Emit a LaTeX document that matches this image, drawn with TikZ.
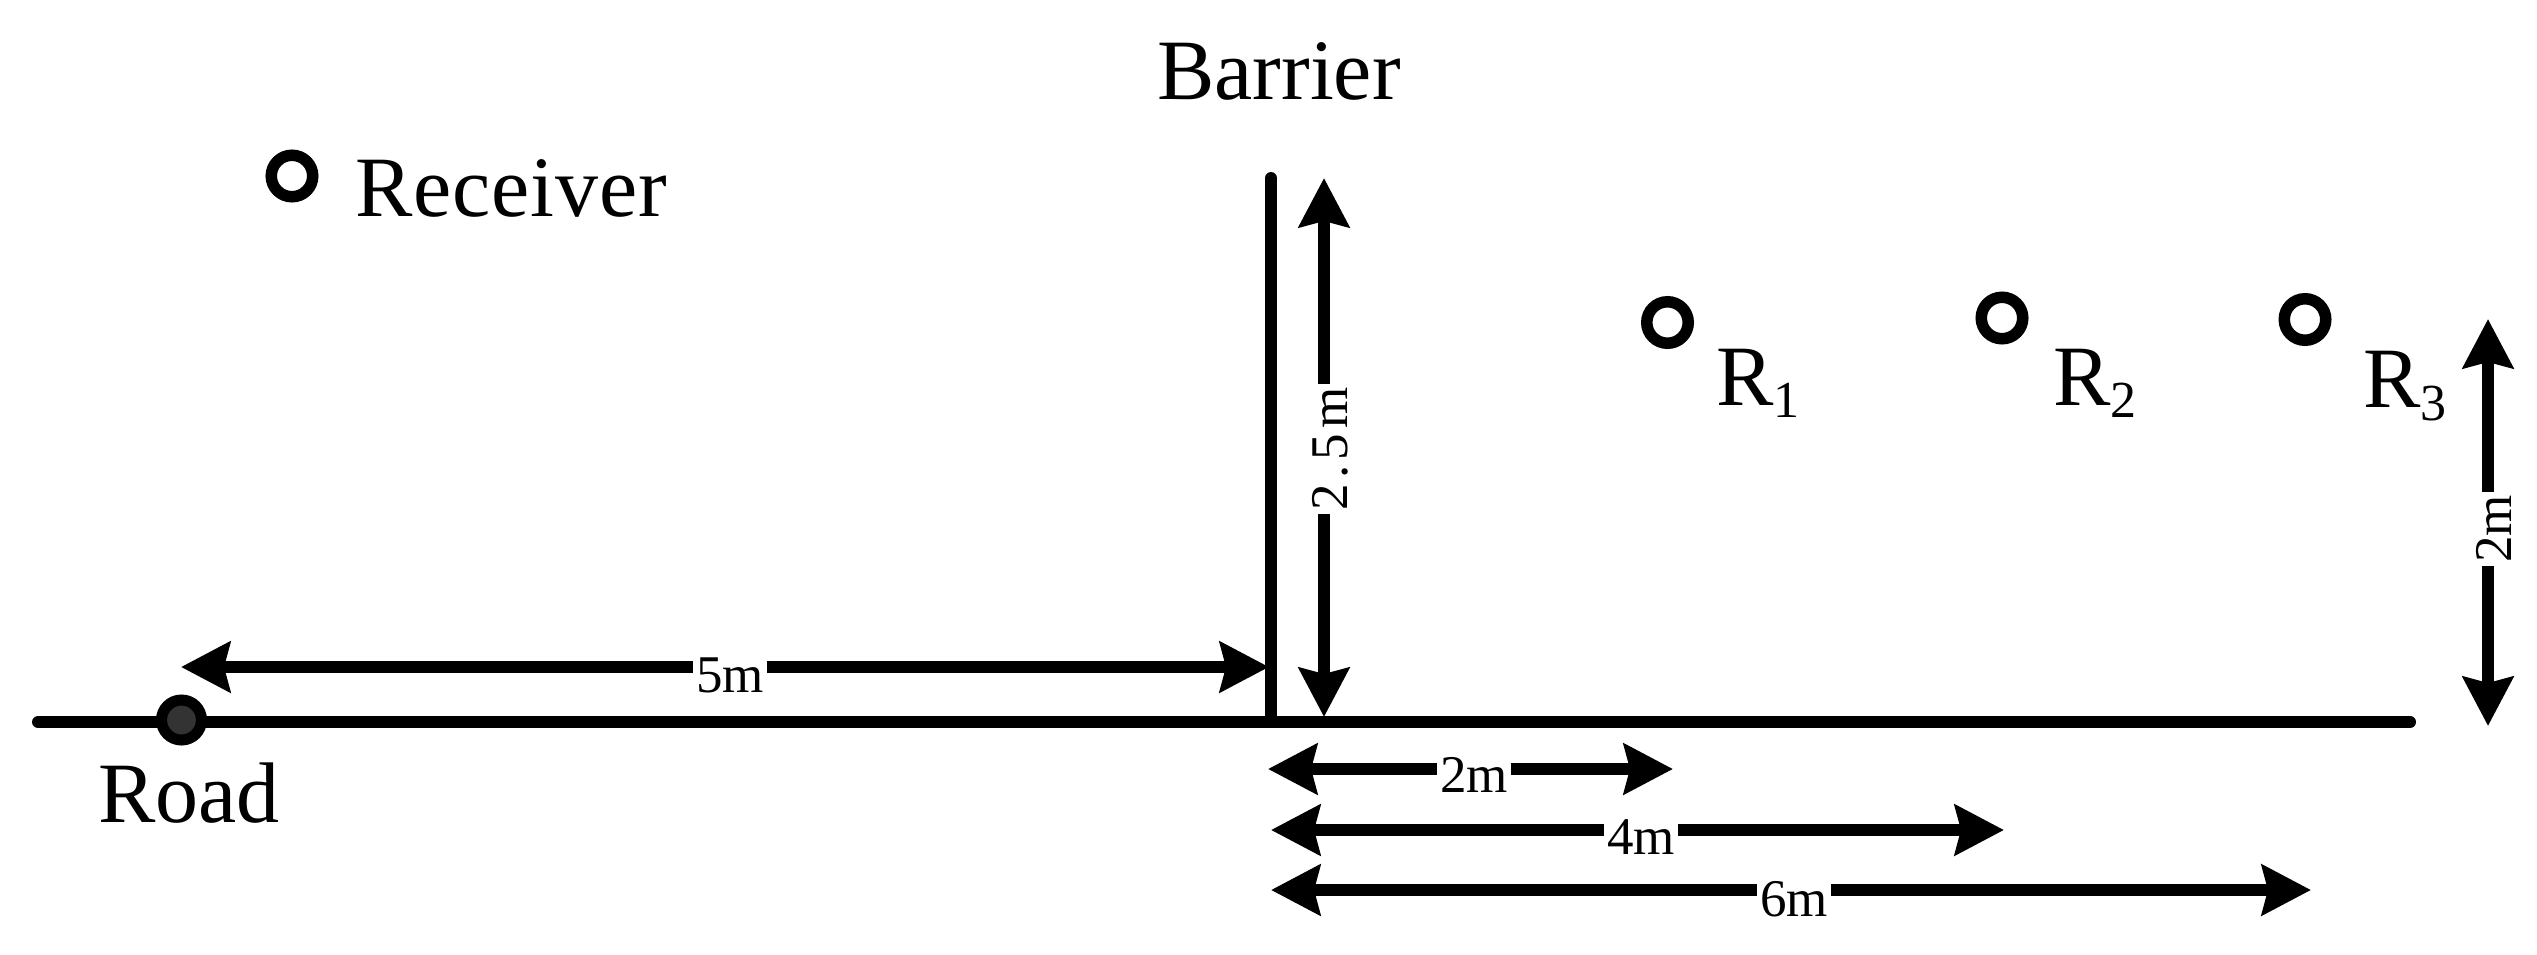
\documentclass[tikz,border=0pt]{standalone}
\usepackage{fontspec}
\setmainfont{Liberation Serif}
\usetikzlibrary{arrows.meta}
\newcommand{\rsub}[2]{\raisebox{#1}{\fontsize{52}{52}\selectfont #2}}
\begin{document}
\begin{tikzpicture}[x=1pt, y=-1pt]
	\tikzset{
		bigtext/.style = {anchor=base west, inner sep=0, font=\fontsize{86}{90}\selectfont},
		dimtext/.style = {fill=white, inner sep=3pt, font=\fontsize{53}{56}\selectfont},
		ring/.style = {circle, draw, line width=11.5pt, fill=white, minimum size=41.5pt, inner sep=0},
		ground/.style = {line width=12pt, line cap=round},
		dimline/.style = {line width=12pt, {Stealth[length=49pt,width=50pt,inset=6pt]}-{Stealth[length=49pt,width=50pt,inset=6pt]}}
	}
	\useasboundingbox (0,0) rectangle (2537,955);
	\coordinate (roadl) at (38,722);
	\coordinate (roadr) at (2410,722);
	\coordinate (bartop) at (1271,178);
	\coordinate (barfoot) at (1271,722);
	\draw [ground] (roadl) -- (roadr);
	\draw [ground] (bartop) -- (barfoot);
	\node (src) at (181.5,720) [circle, draw, line width=11pt, fill=black!80, minimum size=40pt, inner sep=0] {};
	\node (rec) at (292,176) [ring] {};
	\node (r1) at (1667.5,322.5) [ring] {};
	\node (r2) at (2002,318) [ring] {};
	\node (r3) at (2305,319.5) [ring] {};
	\node (tbar) at (1157,100) [bigtext] {Barrier};
	\node (trec) at (355,216) [bigtext] {\addfontfeature{LetterSpace=1}Receiver};
	\node (troad) at (98,822) [bigtext] {Road};
	\node (tr1) at (1716,405) [bigtext] {R\rsub{-12pt}{1}};
	\node (tr2) at (2053,405) [bigtext] {R\rsub{-12pt}{2}};
	\node (tr3) at (2363,407) [bigtext] {R\rsub{-13pt}{3}};
	% ends of the measures
	\coordinate (a1) at (181,667);
	\coordinate (a2) at (1269,667);
	\coordinate (b1) at (1324,178);
	\coordinate (b2) at (1324,717);
	\coordinate (c1) at (2488,319);
	\coordinate (c2) at (2488,726);
	\coordinate (d1) at (1268,769);
	\coordinate (d2) at (1673,769);
	\coordinate (e1) at (1271,830);
	\coordinate (e2) at (2004,830);
	\coordinate (f1) at (1271,890);
	\coordinate (f2) at (2311,890);
	\foreach \from/\to in {a1/a2, b1/b2, c1/c2, d1/d2, e1/e2, f1/f2}
	\draw [dimline] (\from) -- (\to);
	\node (l5) at (730,675) [dimtext] {5m};
	\node (l25) at (1330,449) [dimtext, rotate=90] {\addfontfeature{LetterSpace=10}2.5m};
	\node (l2v) at (2494,529) [dimtext, rotate=90] {2m};
	\node (l2) at (1474,775) [dimtext] {2m};
	\node (l4) at (1641,837) [dimtext] {4m};
	\node (l6) at (1794,899) [dimtext] {6m};
\end{tikzpicture}
\end{document}
